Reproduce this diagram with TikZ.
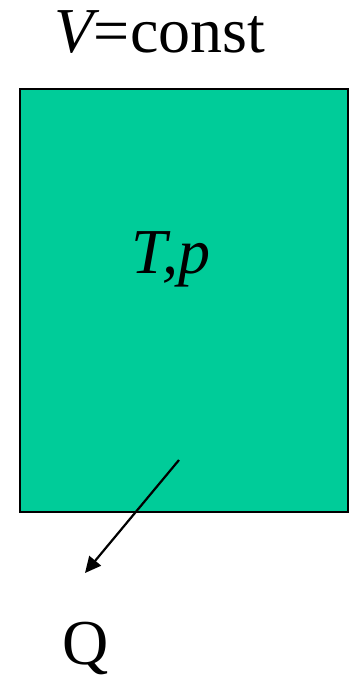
\documentclass[tikz,border=0pt]{standalone}
\usepackage{fontspec}
\setmainfont{Liberation Serif}
\newfontfamily\timesfont{Liberation Serif}
\usetikzlibrary{arrows.meta,positioning}
\definecolor{gasgreen}{HTML}{00CC99}

\begin{document}
\begin{tikzpicture}[x=1pt, y=-1pt,
    bigtext/.style={font=\timesfont\fontsize{64}{68}\selectfont, inner sep=0pt, anchor=base},
    vessel/.style={draw=black, line width=1.5pt, fill=gasgreen}]
  \useasboundingbox (0,0) rectangle (357,678);

  % 容器
  \draw[vessel] (20,89) rectangle (348,512);

  % 标签
  \node[bigtext] (vol) at (160,52) {\itshape V\upshape=const};
  \node[bigtext] (state) at (171,273) {\itshape T,p};
  \node[bigtext] (heat) at (86,664) {Q};

  % 放热
  \coordinate (src) at (179,460);
  \coordinate (snk) at (85,573);
  \draw[line width=2.2pt, -{Triangle[length=16pt,width=15pt]}] (src) -- (snk);
\end{tikzpicture}
\end{document}
